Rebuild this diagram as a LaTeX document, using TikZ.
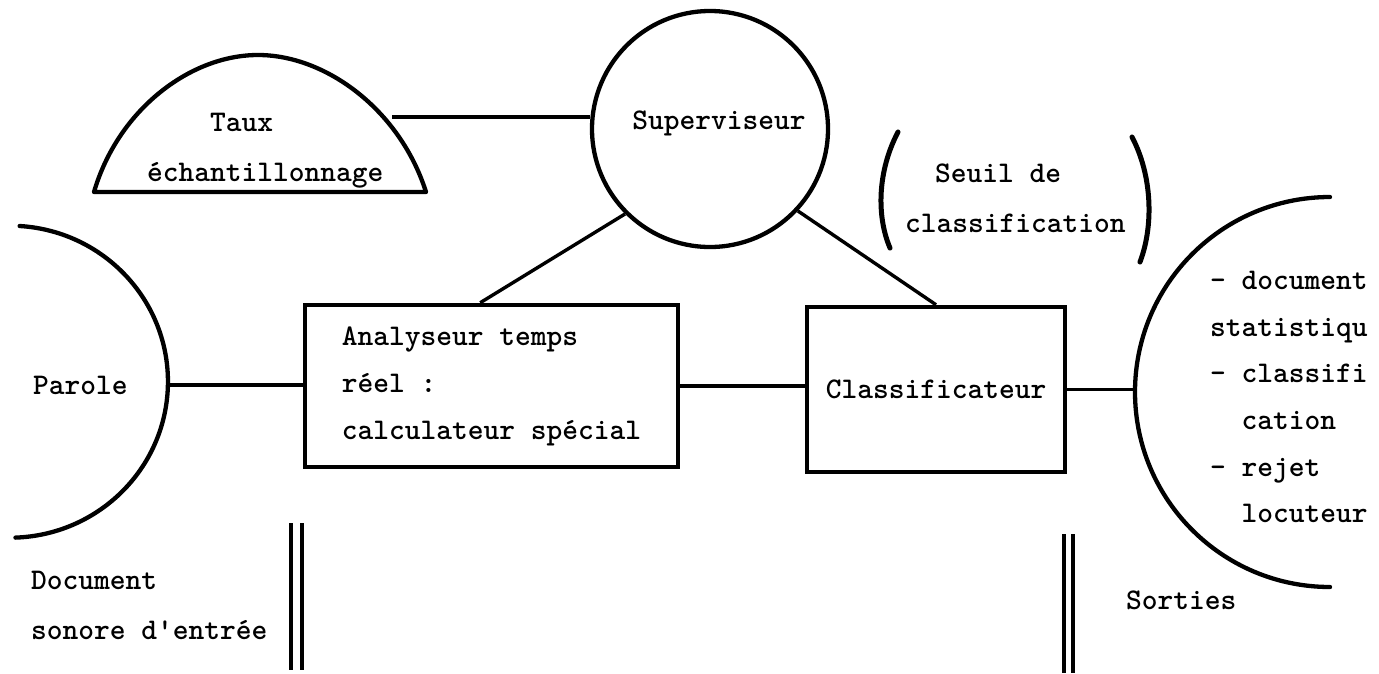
\documentclass[tikz,border=0pt]{standalone}
\usetikzlibrary{calc}
\begin{document}
\begin{tikzpicture}[x=1pt,y=-1pt,
  every node/.style={font=\ttfamily\bfseries\fontsize{30pt}{47pt}\selectfont, inner sep=0pt},
  shapeline/.style={line width=4.3pt, line cap=round, line join=round},
  link/.style={line width=3.4pt},
  boxnode/.style={draw, line width=4.5pt, rectangle, align=left},
  txt/.style={anchor=base west},
  bar/.style={line width=3.8pt},
  paren/.style={line width=5pt, line cap=round}]
\fill[white] (0,0) rectangle (1379,673);
\useasboundingbox (0,0) rectangle (1379,673);

% sampling-rate dome
\draw[shapeline] (94,192) .. controls (118,110) and (190,55) .. (258,55)
  .. controls (326,55) and (400,110) .. (426,192) -- cycle;
\coordinate (taux-e) at (392,117);
\node[txt] (taux-a) at (210,131) {Taux};
\node[txt] (taux-b) at (147,181) {échantillonnage};

% supervisor
\node[draw, circle, line width=4.3pt, minimum size=236pt] (supv) at (710,129) {};
\node (supv-t) at (719,123) {Superviseur};

% processing boxes
\node[boxnode, minimum width=373pt, minimum height=162pt] (ana) at (491.5,386)
  {Analyseur temps\\réel :\\calculateur spécial};
\node[boxnode, minimum width=258pt, minimum height=165pt, align=center] (cls) at (936,389.5)
  {Classificateur};

% speech input half-disc
\draw[shapeline] (19.6,226) arc[start angle=-86.5, end angle=88, x radius=158, y radius=156];
\coordinate (parole-e) at (168,385);
\node[txt] (parole) at (33,394) {Parole};

% outputs half-disc
\draw[shapeline] (1330,197) arc[start angle=270, end angle=90, radius=195];
\coordinate (out-w) at (1135,389.5);

% connectors
\draw[link] (taux-e) -- (taux-e -| supv.west);
\draw[link] (supv.225) -- ($(ana.north west)!0.47!(ana.north east)$);
\draw[link] (supv.317) -- (cls.north);
\draw[link] (parole-e) -- (parole-e -| ana.west);
\draw[link] (ana.east) -- (ana.east -| cls.west);
\draw[link] (cls.east) -- (out-w);

% classification threshold
\draw[paren] (898,132) .. controls (878,170) and (876,215) .. (890,248);
\draw[paren] (1132,137) .. controls (1152,175) and (1154,225) .. (1140,262);
\node[txt] (seuil-a) at (935,182) {Seuil de};
\node[txt] (seuil-b) at (905,232) {classification};

% output list
\node[txt] (out-1) at (1210,289) {- document};
\node[txt] (out-2) at (1210,336) {statistiqu};
\node[txt] (out-3) at (1210,382) {- classifi};
\node[txt] (out-4) at (1210,429) {\phantom{- }cation};
\node[txt] (out-5) at (1210,476) {- rejet};
\node[txt] (out-6) at (1210,522) {\phantom{- }locuteur};

% separators
\draw[bar] (291,523) -- (291,670);
\draw[bar] (302,523) -- (302,670);
\draw[bar] (1064,534) -- (1064,673);
\draw[bar] (1073,534) -- (1073,673);

% bottom captions
\node[txt] (doc-a) at (31,589) {Document};
\node[txt] (doc-b) at (31,639) {sonore d'entrée};
\node[txt] (sorties) at (1126,609) {Sorties};
\end{tikzpicture}
\end{document}
